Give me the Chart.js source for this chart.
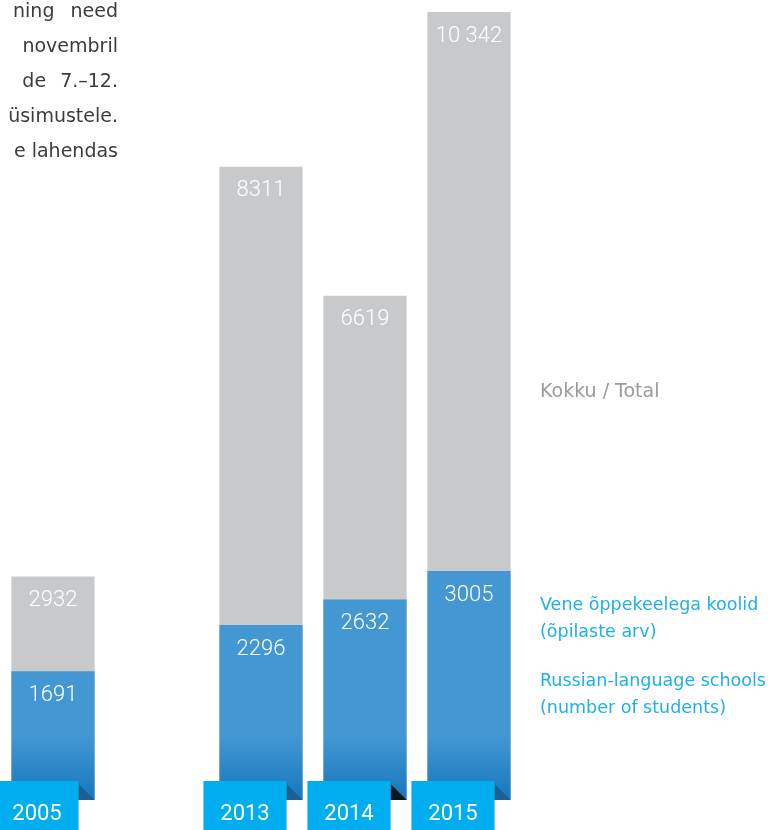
<!DOCTYPE html>
<html>
<head>
    <title>Vene õppekeelega koolid</title>
    <script src="https://cdn.jsdelivr.net/npm/chart.js"></script>
    <style>
        body { margin: 0; background: #fff; }
        #wrap { position: relative; width: 768px; height: 830px; overflow: hidden; }
        .note { position: absolute; font-family: 'DejaVu Sans', sans-serif; white-space: nowrap; }
        .para { right: 650px; top: -7px; text-align: right; color: #3c3c3c; font-size: 19px; line-height: 35px; }
        .legend { left: 540px; font-size: 17.5px; line-height: 27px; }
    </style>
</head>
<body>
    <div id="wrap">
        <canvas id="russianChart"></canvas>
        <div class="note para">
            <div style="word-spacing: 10px;">ning need</div>
            <div>novembril</div>
            <div style="word-spacing: 8px;">de 7.–12.</div>
            <div>üsimustele.</div>
            <div>e lahendas</div>
        </div>
        <div class="note legend" style="top: 377px; color: #9b9b9b; font-size: 19px;">Kokku / Total</div>
        <div class="note legend" style="top: 591px; color: #1eb0ea;">Vene õppekeelega koolid<br>(õpilaste arv)</div>
        <div class="note legend" style="top: 667px; color: #1eb0ea;">Russian-language schools<br>(number of students)</div>
    </div>
    <script>
        // values; '' is the gap between 2005 and 2013
        const years = ['2005', '', '2013', '2014', '2015'];
        const totalStudents = [2932, null, 8311, 6619, 10342];
        const russianStudents = [1691, null, 2296, 2632, 3005];

        const foldColors = ['#1c5f98', null, '#1c5f98', '#0e1620', '#1c5f98'];

        function fmt(v) {
            return v >= 10000 ? String(v).replace(/\B(?=(\d{3})+(?!\d))/g, ' ') : String(v);
        }

        const labelsPlugin = {
            id: 'labelsPlugin',
            afterDatasetsDraw(chart) {
                const ctx = chart.ctx;
                ctx.save();
                ctx.textAlign = 'center';
                ctx.textBaseline = 'middle';

                // value labels at top of each segment
                chart.data.datasets.forEach((ds, i) => {
                    chart.getDatasetMeta(i).data.forEach((bar, j) => {
                        const v = ds.data[j];
                        if (v == null) return;
                        ctx.fillStyle = '#ffffff';
                        ctx.font = '300 22px Roboto';
                        ctx.fillText(fmt(v), bar.x, bar.y + 24);
                    });
                });

                // year tags under the bars
                chart.getDatasetMeta(0).data.forEach((bar, j) => {
                    if (!years[j]) return;
                    const right = bar.x + bar.width / 2;
                    const shift = 16;
                    const tagL = bar.x - bar.width / 2 - shift;
                    const tagR = right - shift;
                    const bottom = bar.base;

                    ctx.fillStyle = foldColors[j];
                    ctx.beginPath();
                    ctx.moveTo(tagR, bottom - 16);
                    ctx.lineTo(right, bottom);
                    ctx.lineTo(tagR, bottom);
                    ctx.closePath();
                    ctx.fill();

                    ctx.fillStyle = '#00aeef';
                    ctx.fillRect(tagL, bottom - 19, bar.width, 60);

                    ctx.fillStyle = '#ffffff';
                    ctx.font = '22px Roboto';
                    ctx.fillText(years[j], bar.x - shift, bottom + 14);
                });
                ctx.restore();
            }
        };

        const ctx = document.getElementById('russianChart').getContext('2d');
        const russianChart = new Chart(ctx, {
            type: 'bar',
            data: {
                labels: years,
                datasets: [
                    {
                        label: 'Vene õppekeelega koolid (õpilaste arv)',
                        data: russianStudents,
                        grouped: false,
                        backgroundColor(c) {
                            const area = c.chart.chartArea;
                            if (!area) return '#4398d4';
                            const g = c.chart.ctx.createLinearGradient(0, area.bottom - 65, 0, area.bottom);
                            g.addColorStop(0, '#4398d4');
                            g.addColorStop(1, '#1677bd');
                            return g;
                        },
                        barPercentage: 1,
                        categoryPercentage: 0.8,
                    },
                    {
                        label: 'Kokku / Total',
                        data: totalStudents,
                        grouped: false,
                        backgroundColor: '#c8c9cb',
                        barPercentage: 1,
                        categoryPercentage: 0.8,
                    },
                ],
            },
            options: {
                responsive: true,
                maintainAspectRatio: false,
                animation: false,
                layout: {
                    padding: { left: 1, right: 247, top: 12, bottom: 30 },
                },
                plugins: {
                    legend: { display: false },
                    tooltip: { enabled: false },
                },
                scales: {
                    x: { display: false },
                    y: {
                        display: false,
                        min: 0,
                        max: Math.max(...totalStudents),
                    },
                },
            },
            plugins: [labelsPlugin],
        });
    </script>
</body>
</html>
